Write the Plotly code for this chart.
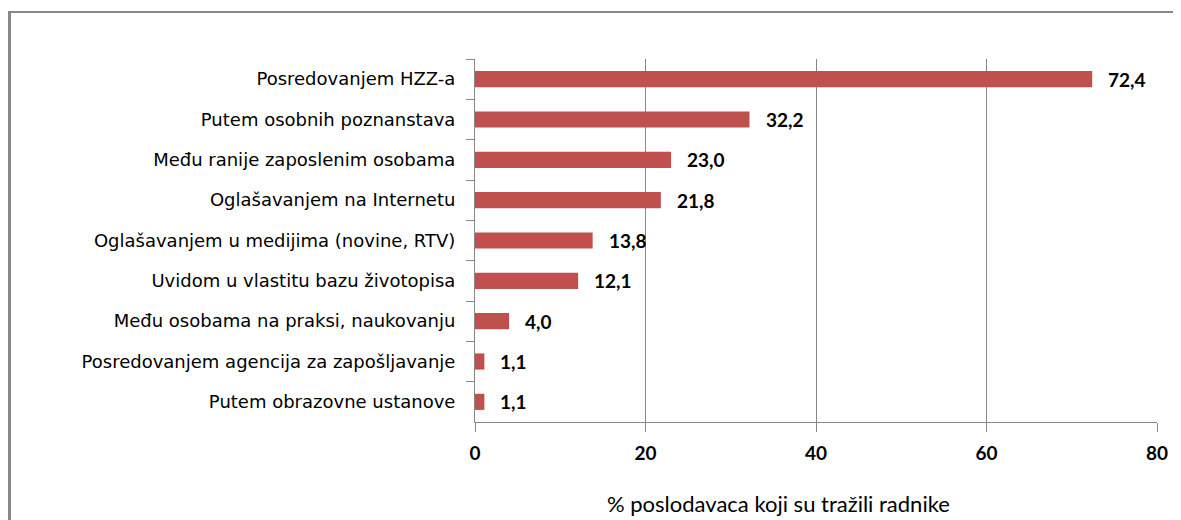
import plotly.graph_objects as go

categories = [
    "Posredovanjem HZZ-a",
    "Putem osobnih poznanstava",
    "Među ranije zaposlenim osobama",
    "Oglašavanjem na Internetu",
    "Oglašavanjem u medijima (novine, RTV)",
    "Uvidom u vlastitu bazu životopisa",
    "Među osobama na praksi, naukovanju",
    "Posredovanjem agencija za zapošljavanje",
    "Putem obrazovne ustanove",
]
values = [72.4, 32.2, 23.0, 21.8, 13.8, 12.1, 4.0, 1.1, 1.1]
x_ticks = [0, 20, 40, 60, 80]
x_title = "% poslodavaca koji su tražili radnike"

OFF = 8  # page body margin
W, H = 1181 - OFF, 520 - OFF
ML, MR, MT, MB = 475 - OFF, 24, 59 - OFF, 98
PW, PH = W - ML - MR, H - MT - MB

def px_x(p):
    return (p - OFF - ML) / PW

def px_y(p):
    return (H - MB - (p - OFF)) / PH

labels = [f"{v:.1f}".replace(".", ",") for v in values]

fig = go.Figure()
fig.add_trace(go.Bar(
    y=categories, x=values, orientation="h",
    marker=dict(color="#C0504D", line=dict(width=0)),
    width=0.4, showlegend=False, hoverinfo="x+y",
))

for c, v, t in zip(categories, values, labels):
    fig.add_annotation(x=v, y=c, xref="x", yref="y", text=t, showarrow=False,
                       xanchor="left", yanchor="middle", xshift=14,
                       font=dict(family="Lato", size=19, color="#000000", weight="bold"))

fig.add_annotation(x=px_x(778), y=px_y(503), xref="paper", yref="paper",
                   text=x_title, showarrow=False, xanchor="center", yanchor="middle",
                   font=dict(family="Lato", size=22, color="#000000"))

border = "#888888"
fig.add_shape(type="line", xref="paper", yref="paper",
              x0=px_x(9.5), x1=px_x(9.5), y0=px_y(12), y1=px_y(540),
              line=dict(color=border, width=3))
fig.add_shape(type="line", xref="paper", yref="paper",
              x0=px_x(8), x1=px_x(1200), y0=px_y(12), y1=px_y(12),
              line=dict(color=border, width=2))

fig.update_layout(
    width=W, height=H,
    margin=dict(l=ML, r=MR, t=MT, b=MB),
    paper_bgcolor="white", plot_bgcolor="white",
    bargap=0.6,
)
fig.update_xaxes(
    range=[0, 80], tickvals=x_ticks, ticktext=[str(t) for t in x_ticks],
    showgrid=True, gridcolor="#878787", gridwidth=1,
    showline=True, linecolor="#878787", linewidth=1,
    ticks="outside", ticklen=9, tickcolor="#878787", tickwidth=1,
    ticklabelstandoff=5,
    tickfont=dict(family="Lato", size=19, color="#000000", weight="bold"),
    zeroline=False, fixedrange=True,
)
fig.update_yaxes(
    autorange="reversed", type="category",
    showline=True, linecolor="#878787", linewidth=1,
    ticks="outside", tickson="boundaries", ticklen=8, tickcolor="#878787",
    ticklabelstandoff=15,
    tickfont=dict(family="DejaVu Sans", size=18, color="#000000"),
    showgrid=False, fixedrange=True,
)

fig.write_html("out.html")
